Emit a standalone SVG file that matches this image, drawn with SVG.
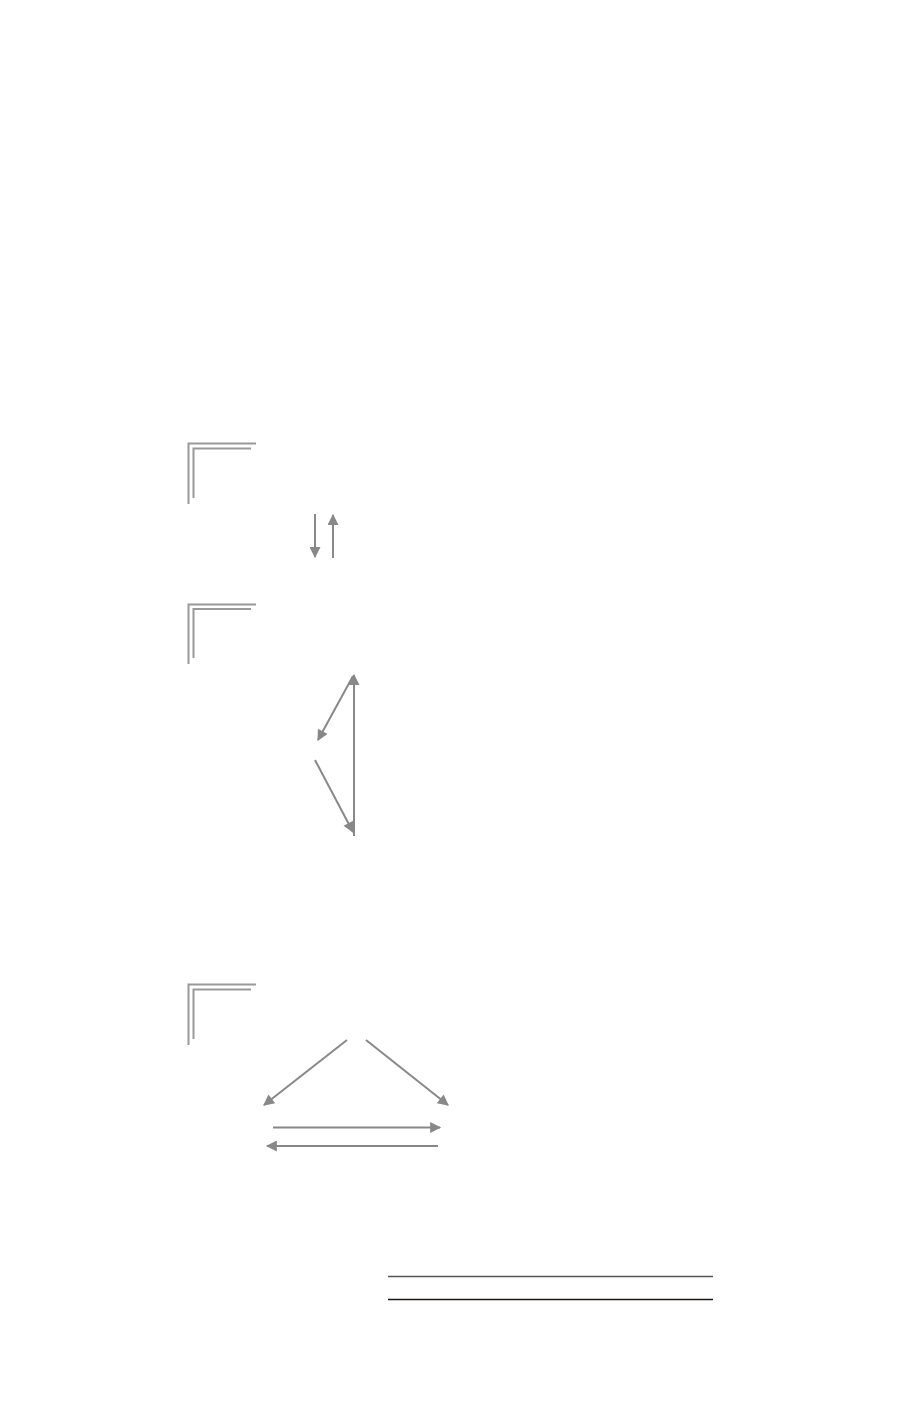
<svg xmlns="http://www.w3.org/2000/svg" width="920" height="1406" viewBox="0 0 920 1406">
<style>
.corner{fill:none;stroke:#999;stroke-width:2}
.edge{fill:none;stroke:#888;stroke-width:2;marker-end:url(#ah)}
</style>
<defs>
<marker id="ah" viewBox="0 0 10 10" refX="9" refY="5" markerWidth="7" markerHeight="5.5" markerUnits="strokeWidth" orient="auto">
<path d="M0,0 L10,5 L0,10 Z" fill="#888"/>
</marker>
</defs>
<rect width="920" height="1406" fill="#fff"/>
<g id="frame1">
<path class="corner" d="M188.5,504 V443.5 H256"/>
<path class="corner" d="M193.5,498 V448.5 H251"/>
</g>
<g id="frame2">
<path class="corner" d="M188.5,664 V604.5 H256"/>
<path class="corner" d="M193.5,658 V609 H251"/>
</g>
<g id="frame3">
<path class="corner" d="M188.5,1045 V984.5 H256"/>
<path class="corner" d="M193.5,1039 V989.5 H251"/>
</g>
<g id="connectors">
<line class="edge" x1="315" y1="514" x2="315" y2="557"/>
<line class="edge" x1="333" y1="558" x2="333" y2="515"/>
<line class="edge" x1="354" y1="836" x2="354" y2="675"/>
<line class="edge" x1="353" y1="676" x2="318" y2="740"/>
<line class="edge" x1="315" y1="760" x2="353" y2="832"/>
<line class="edge" x1="347" y1="1040" x2="264" y2="1105"/>
<line class="edge" x1="366" y1="1040" x2="448" y2="1105"/>
<line class="edge" x1="273" y1="1127.5" x2="440" y2="1127.5"/>
<line class="edge" x1="438" y1="1146" x2="267" y2="1146"/>
</g>
<g id="rules">
<line x1="388" y1="1276.5" x2="713" y2="1276.5" stroke="#555" stroke-width="1.3"/>
<line x1="388" y1="1299.5" x2="713" y2="1299.5" stroke="#1e1610" stroke-width="1.3"/>
</g>
</svg>
